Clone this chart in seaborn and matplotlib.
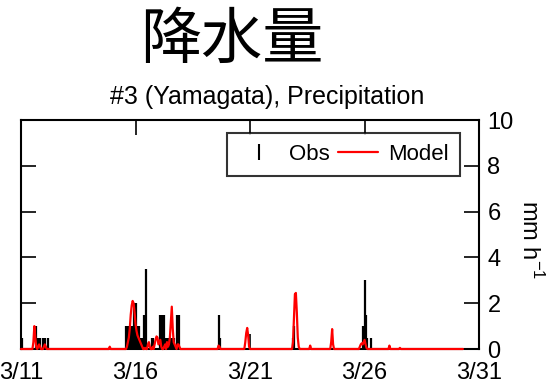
import numpy as np
import pandas as pd
import matplotlib
matplotlib.use('Agg')
import matplotlib.pyplot as plt
from matplotlib.lines import Line2D
import seaborn as sns

# hourly data, hour 0 = 3/11 00:00
obs_hours = [1, 16, 18, 20, 23, 25, 28,
             110, 111, 112, 113, 114, 115, 116, 117, 118, 119, 120,
             121, 122, 123, 124, 125, 126, 127, 128, 129, 131, 137, 138,
             146, 147, 148, 149, 150, 151, 153, 155, 157, 159, 160,
             163, 164, 165, 166,
             207, 208, 285, 286, 358, 359, 360, 361, 362, 367]
obs_values = [0.5, 1.0, 0.5, 0.5, 0.5, 0.5, 0.5,
              1.0, 1.0, 1.0, 1.0, 1.0, 1.0, 1.0, 1.0, 2.0, 2.0, 2.0,
              1.0, 1.0, 1.0, 1.0, 0.5, 0.5, 0.5, 0.5, 1.5, 3.5, 0.5, 0.5,
              1.5, 0.5, 1.5, 0.5, 1.5, 0.5, 0.5, 0.5, 0.5, 0.5, 0.5,
              1.5, 0.5, 0.5, 1.5,
              1.5, 0.5, 0.5, 1.0, 1.0, 1.0, 3.0, 1.5, 0.5, 0.5]

model_hours = [13, 14, 15, 16, 18, 19, 20, 24, 25, 26,
               93,
               111, 112, 113, 114, 115, 116, 117, 118, 119, 120, 121, 122, 123, 124, 125, 126, 127,
               130, 133, 134, 135, 138, 140, 141, 142, 143, 144, 145, 146, 147, 150, 151,
               153, 154, 155, 156, 157, 158, 159, 160, 161, 162, 164, 165, 166,
               207, 208,
               235, 236, 237, 238, 239,
               285, 286, 287, 288, 289, 290, 291,
               303,
               325, 326, 327,
               355, 356, 357, 358, 359, 360, 361, 362,
               386, 397]
model_values = [0.3, 1.0, 0.5, 0.1, 0.1, 0.2, 0.1, 0.1, 0.2, 0.1,
                0.1,
                0.1, 0.3, 0.5, 0.9, 1.5, 1.9, 2.1, 2.0, 1.6, 1.1, 0.8, 0.6, 0.5, 0.4, 0.3, 0.2, 0.1,
                0.05, 0.2, 0.3, 0.1, 0.1, 0.2, 0.4, 0.55, 0.5, 0.2, 0.3, 0.4, 0.1, 0.1, 0.2,
                0.3, 0.1, 0.2, 0.5, 1.2, 1.85, 0.9, 0.3, 0.2, 0.1, 0.2, 0.2, 0.1,
                0.15, 0.1,
                0.3, 0.7, 0.92, 0.6, 0.1,
                0.3, 1.4, 2.4, 2.45, 1.6, 0.5, 0.1,
                0.15,
                0.3, 0.87, 0.2,
                0.1, 0.2, 0.25, 0.2, 0.3, 0.4, 0.2, 0.05,
                0.15, 0.05]
model_last_hour = 463

tick_hours = [0, 120, 240, 360, 480]
tick_labels = ['3/11', '3/16', '3/21', '3/26', '3/31']

sns.set_style('ticks')
plt.rcParams['font.family'] = ['Liberation Sans', 'DejaVu Sans']
plt.rcParams['mathtext.fontset'] = 'custom'
plt.rcParams['mathtext.rm'] = 'Liberation Sans'
plt.rcParams['text.color'] = 'black'
plt.rcParams['xtick.color'] = 'black'
plt.rcParams['ytick.color'] = 'black'
plt.rcParams['axes.labelcolor'] = 'black'

model = np.zeros(model_last_hour + 1)
model[model_hours] = model_values
df_model = pd.DataFrame({'hour': np.arange(model_last_hour + 1), 'precip': model})

fig = plt.figure(figsize=(5.52, 3.85), dpi=100)
ax = fig.add_axes([0.038, 0.0935, 0.83, 0.5945])

ax.vlines(obs_hours, 0, obs_values, color='black', lw=1.6, zorder=2.6)
sns.lineplot(data=df_model, x='hour', y='precip', color='red', lw=1.6, ax=ax,
             zorder=3, clip_on=False)

ax.set_xlim(0, 480)
ax.set_ylim(0, 10)
ax.set_xticks(tick_hours)
ax.set_xticklabels(tick_labels)
ax.set_yticks(range(0, 11, 2))
ax.set_xlabel('')
ax.set_ylabel('')

for s in ax.spines.values():
    s.set_visible(True)
    s.set_linewidth(1.5)
    s.set_color('black')

ax.tick_params(axis='x', direction='in', top=True, bottom=True, length=11, width=1.2,
               labelsize=17, pad=9, colors='black')
ax.tick_params(axis='y', direction='in', left=True, right=True, labelleft=False,
               labelright=True, length=11, width=1.2, labelsize=17, pad=6, colors='black')

handles = [Line2D([], [], marker='|', linestyle='None', color='black', markersize=11, mew=1.5),
           Line2D([], [], color='red', lw=1.6)]
leg = ax.legend(handles, ['Obs', 'Model'], ncol=2, loc='upper right',
                bbox_to_anchor=(0.958, 0.945), borderaxespad=0, fontsize=16,
                frameon=True, fancybox=False, handlelength=1.8, handletextpad=0.45,
                columnspacing=0.4, borderpad=0.5, labelcolor='black')
leg.get_frame().set_edgecolor('black')
leg.get_frame().set_linewidth(1.5)

fig.text(0.42, 0.895, '降水量', ha='center', va='center', fontsize=44, color='black',
         family=['Noto Sans CJK JP', 'DejaVu Sans'])
fig.text(0.484, 0.748, '#3 (Yamagata), Precipitation', ha='center', va='center',
         fontsize=18, color='black')
fig.text(0.96, 0.377, 'mm h$^{-1}$', ha='center', va='center', rotation=-90,
         fontsize=17, color='black')

fig.savefig('out.png', dpi=100)
